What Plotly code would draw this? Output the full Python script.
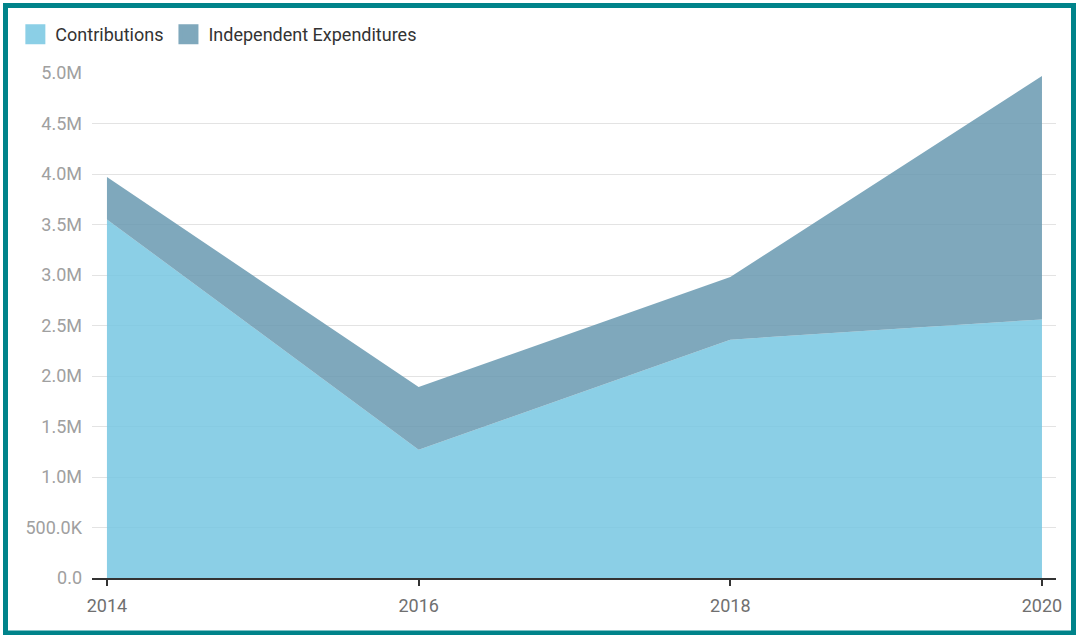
import plotly.graph_objects as go

years = [2014, 2016, 2018, 2020]
contributions = [3.55e6, 1.27e6, 2.36e6, 2.56e6]
independent_expenditures = [3.97e6, 1.89e6, 2.98e6, 4.97e6]
series_names = ["Contributions", "Independent Expenditures"]
y_tick_vals = [0, 0.5e6, 1.0e6, 1.5e6, 2.0e6, 2.5e6, 3.0e6, 3.5e6, 4.0e6, 4.5e6, 5.0e6]
y_tick_text = ["0.0", "500.0K", "1.0M", "1.5M", "2.0M", "2.5M", "3.0M", "3.5M", "4.0M", "4.5M", "5.0M"]
x_tick_text = ["2014", "2016", "2018", "2020"]

c_fill = "rgba(119,199,226,0.85)"
ie_fill = "rgba(104,153,176,0.85)"
c_legend = "#8bcfe6"
ie_legend = "#7fa8bc"

fig = go.Figure()
fig.add_trace(go.Scatter(x=years, y=contributions, mode="lines", line=dict(width=0),
                         fill="tozeroy", fillcolor=c_fill, showlegend=False, hoverinfo="skip"))
fig.add_trace(go.Scatter(x=years, y=independent_expenditures, mode="lines", line=dict(width=0),
                         fill="tonexty", fillcolor=ie_fill, showlegend=False, hoverinfo="skip"))
# legend entries
for name, col in zip(series_names, [c_legend, ie_legend]):
    fig.add_trace(go.Scatter(x=[None], y=[None], mode="markers", name=name,
                             marker=dict(symbol="square", size=16, color=col,
                                         line=dict(color=col, width=4))))

fig.update_layout(
    width=1076, height=635,
    margin=dict(l=92, r=20, t=73, b=57),
    paper_bgcolor="white", plot_bgcolor="white",
    font=dict(family="Roboto", size=18, color="#333333"),
    showlegend=True,
    legend=dict(orientation="h", x=-0.0795, xanchor="left", y=1.113, yanchor="top",
                traceorder="normal",
                font=dict(size=18, color="#333333"), bgcolor="rgba(0,0,0,0)",
                itemsizing="trace"),
    xaxis=dict(range=[2013.904, 2020.09], tickvals=years, ticktext=x_tick_text,
               showgrid=False, zeroline=False, showline=True, linecolor="#333333", linewidth=2,
               ticks="outside", ticklen=6, tickwidth=2, tickcolor="#333333",
               ticklabelstandoff=4,
               tickfont=dict(size=18, color="#707070"), fixedrange=True),
    yaxis=dict(range=[0, 5.0e6], tickvals=y_tick_vals, ticktext=y_tick_text,
               showgrid=True, gridcolor="#e3e3e3", gridwidth=1, zeroline=False,
               showline=False, ticks="", ticklabelstandoff=9,
               tickfont=dict(size=18, color="#a0a0a0"), fixedrange=True),
    shapes=[dict(type="rect", xref="paper", yref="paper",
                 x0=(5.5 - 92) / 964, x1=(1073.5 - 92) / 964,
                 y0=(578 - 633) / 505, y1=(578 - 5.5) / 505,
                 line=dict(color="#00838a", width=5), fillcolor="rgba(0,0,0,0)", layer="above")],
)

fig.write_html("out.html", config={"displayModeBar": False},
               post_script="document.body.style.margin='0';")
